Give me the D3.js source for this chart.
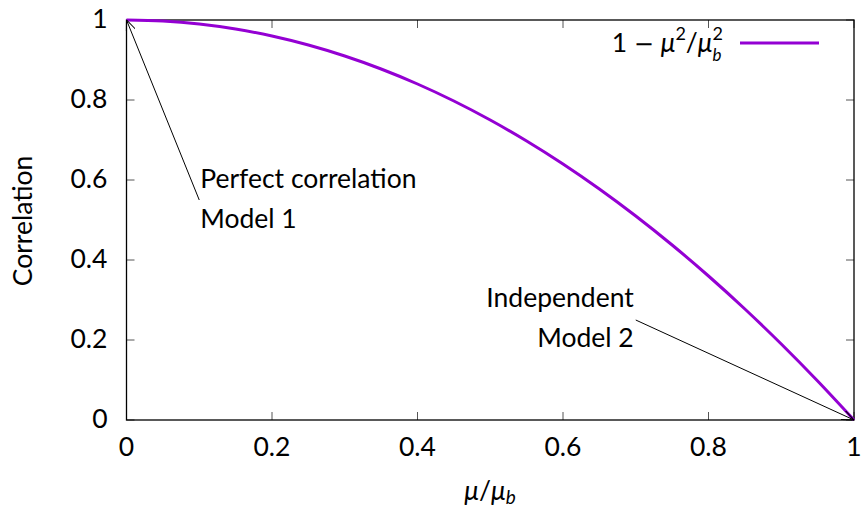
<!DOCTYPE html>
<html><head><meta charset="utf-8">
<script src="https://cdn.jsdelivr.net/npm/d3@7"></script>
<style>body{margin:0;background:#fff}text{font-family:Lato,"DejaVu Sans",sans-serif;fill:#000}</style>
</head><body><svg id="c" width="861" height="508"></svg>
<script>
const xValues=[0,0.05,0.1,0.15,0.2,0.25,0.3,0.35,0.4,0.45,0.5,0.55,0.6,0.65,0.7,0.75,0.8,0.85,0.9,0.95,1];
const corrValues=[1,0.9975,0.99,0.9775,0.96,0.9375,0.91,0.8775,0.84,0.7975,0.75,0.6975,0.64,0.5775,0.51,0.4375,0.36,0.2775,0.19,0.0975,0];
const xTicks=[0,0.2,0.4,0.6,0.8,1];
const yTicks=[0,0.2,0.4,0.6,0.8,1];
const xTickLabels=["0","0.2","0.4","0.6","0.8","1"];
const yTickLabels=["0","0.2","0.4","0.6","0.8","1"];
const annotations=[
 {lines:["Perfect correlation","Model 1"],tail:[0.1,0.55],head:[0,1],anchor:"start",dx:1,dy:-12},
 {lines:["Independent","Model 2"],tail:[0.7,0.25],head:[1,0],anchor:"end",dx:-2,dy:-13}
];
const svg=d3.select("#c");
const L=126.5,R=854,T=20,B=420;
const x=d3.scaleLinear().domain([0,1]).range([L,R]);
const y=d3.scaleLinear().domain([0,1]).range([B,T]);
const fs=26.5;
// ticks
const tk=svg.append("g").attr("stroke","#555").attr("stroke-width",1);
xTicks.forEach(v=>{tk.append("line").attr("x1",x(v)).attr("x2",x(v)).attr("y1",B).attr("y2",B-8);
 tk.append("line").attr("x1",x(v)).attr("x2",x(v)).attr("y1",T).attr("y2",T+8);});
yTicks.forEach(v=>{tk.append("line").attr("x1",L).attr("x2",L+8).attr("y1",y(v)).attr("y2",y(v));
 tk.append("line").attr("x1",R).attr("x2",R-8).attr("y1",y(v)).attr("y2",y(v));});
xTicks.forEach((v,i)=>svg.append("text").attr("x",x(v)).attr("y",B+36).attr("text-anchor","middle").attr("font-size",fs).text(xTickLabels[i]));
yTicks.forEach((v,i)=>svg.append("text").attr("x",L-19).attr("y",y(v)+8).attr("text-anchor","end").attr("font-size",fs).text(yTickLabels[i]));
// border
svg.append("rect").attr("x",L).attr("y",T).attr("width",R-L).attr("height",B-T).attr("fill","none").attr("stroke","#000").attr("stroke-width",1.3);
// curve
svg.append("path").datum(xValues.map((v,i)=>[v,corrValues[i]]))
 .attr("d",d3.line().x(d=>x(d[0])).y(d=>y(d[1])).curve(d3.curveMonotoneX))
 .attr("fill","none").attr("stroke","#9400d3").attr("stroke-width",3);
// annotations
svg.append("defs").append("marker").attr("id","ah").attr("viewBox","0 0 12 10").attr("refX",12).attr("refY",5)
 .attr("markerWidth",12).attr("markerHeight",10).attr("markerUnits","userSpaceOnUse").attr("orient","auto")
 .append("path").attr("d","M0,0L12,5L0,10").attr("fill","none").attr("stroke","#000").attr("stroke-width",1);
annotations.forEach(a=>{
 svg.append("line").attr("x1",x(a.tail[0])).attr("y1",y(a.tail[1])).attr("x2",x(a.head[0])).attr("y2",y(a.head[1]))
  .attr("stroke","#000").attr("stroke-width",1).attr("marker-end","url(#ah)");
 const tx=x(a.tail[0])+a.dx, ty0=y(a.tail[1])+a.dy;
 a.lines.forEach((s,i)=>svg.append("text").attr("x",tx).attr("y",ty0+i*40).attr("text-anchor",a.anchor).attr("font-size",fs).text(s));
});
// legend
const lg=svg.append("text").attr("x",723).attr("y",52).attr("text-anchor","end").attr("font-size",fs);
lg.append("tspan").text("1 ");
lg.append("tspan").attr("font-family","DejaVu Sans").attr("font-size",24).text("−");
lg.append("tspan").text(" ");
lg.append("tspan").attr("font-style","italic").text("μ");
lg.append("tspan").attr("font-size",18).attr("dy",-12).text("2");
lg.append("tspan").attr("dy",12).text("/");
lg.append("tspan").attr("font-style","italic").text("μ");
const sup=lg.append("tspan").attr("font-size",18).attr("dy",-12).text("2");
svg.append("line").attr("x1",740).attr("x2",819).attr("y1",43).attr("y2",43).attr("stroke","#9400d3").attr("stroke-width",3);
const bb=sup.node().getBBox();
svg.append("text").attr("x",bb.x).attr("y",61).attr("font-size",17).attr("font-style","italic").text("b");
// axis titles
const xt=svg.append("text").attr("x",490).attr("y",500).attr("text-anchor","middle").attr("font-size",fs);
xt.append("tspan").attr("font-style","italic").text("μ");
xt.append("tspan").text("/");
xt.append("tspan").attr("font-style","italic").text("μ");
xt.append("tspan").attr("font-size",19).attr("font-style","italic").attr("dy",4).text("b");
svg.append("text").attr("transform","translate(32,221) rotate(-90)").attr("text-anchor","middle").attr("font-size",fs).text("Correlation");
</script></body></html>
